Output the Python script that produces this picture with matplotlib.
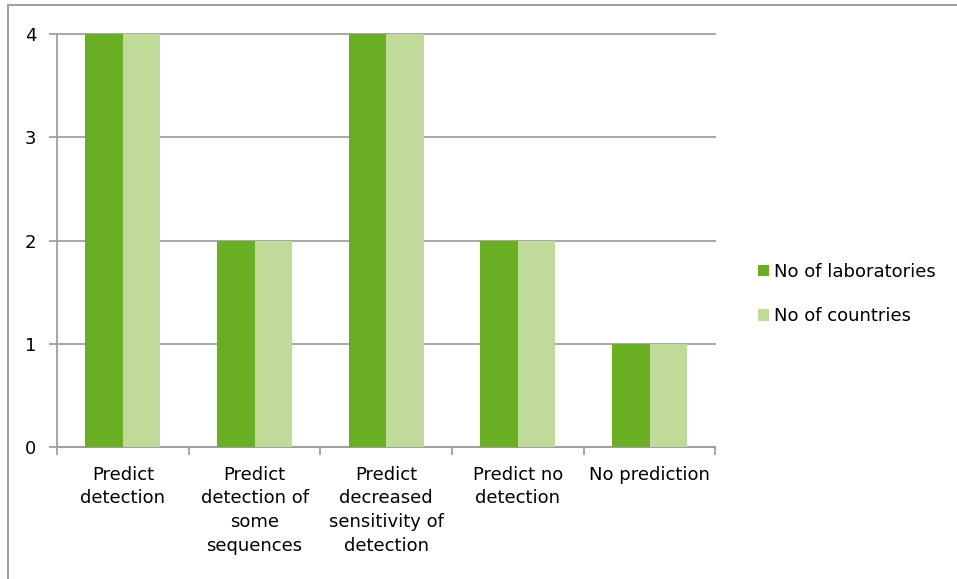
import matplotlib
matplotlib.use("Agg")
import matplotlib.pyplot as plt
import numpy as np
from matplotlib.patches import Patch
from matplotlib.lines import Line2D

categories = ["Predict\ndetection",
              "Predict\ndetection of\nsome\nsequences",
              "Predict\ndecreased\nsensitivity of\ndetection",
              "Predict no\ndetection",
              "No prediction"]
labs = [4, 2, 4, 2, 1]
countries = [4, 2, 4, 2, 1]
series_names = ["No of laboratories", "No of countries"]
yticks = [0, 1, 2, 3, 4]

dark = "#6aaf23"
light = "#c0da9a"
grey = "#a0a0a0"

plt.rcParams["font.family"] = "DejaVu Sans"
plt.rcParams["font.size"] = 13

fig = plt.figure(figsize=(9.57, 5.79), dpi=100)
ax = fig.add_axes([0.0596, 0.228, 0.688, 0.713])

x = np.arange(len(categories))
w = 0.285
ax.bar(x - w / 2, labs, w, color=dark, zorder=3)
ax.bar(x + w / 2, countries, w, color=light, zorder=3)

ax.set_xlim(-0.5, len(categories) - 0.5)
ax.set_ylim(0, 4)
ax.set_yticks(yticks)
ax.yaxis.grid(True, color=grey, linewidth=1.3, zorder=0)
for gl in ax.get_ygridlines():
    gl.set_clip_on(False)
ax.tick_params(axis="y", length=6, color=grey, width=1.3, pad=9)

# category boundaries get the tick marks, labels sit in the middle
ax.set_xticks(np.arange(len(categories) + 1) - 0.5)
ax.set_xticklabels([])
ax.tick_params(axis="x", length=6, color=grey, width=1.3)
for i, c in enumerate(categories):
    ax.text(i, -0.18, c, ha="center", va="top", linespacing=1.42,
            transform=ax.transData, clip_on=False)

for s in ["top", "right"]:
    ax.spines[s].set_visible(False)
for s in ["left", "bottom"]:
    ax.spines[s].set_color(grey)
    ax.spines[s].set_linewidth(1.3)

handles = [Patch(facecolor=dark), Patch(facecolor=light)]
fig.legend(handles, series_names, loc="center left",
           bbox_to_anchor=(0.783, 0.492), frameon=False,
           handlelength=0.6, handleheight=0.6, handletextpad=0.25,
           labelspacing=1.45, borderpad=0)

# outer chart frame
fig.add_artist(Line2D([8 / 957, 8 / 957], [0, 1 - 5 / 579], color=grey, lw=1.5))
fig.add_artist(Line2D([8 / 957, 1], [1 - 5 / 579, 1 - 5 / 579], color=grey, lw=1.5))

fig.savefig("out.png", dpi=100)
